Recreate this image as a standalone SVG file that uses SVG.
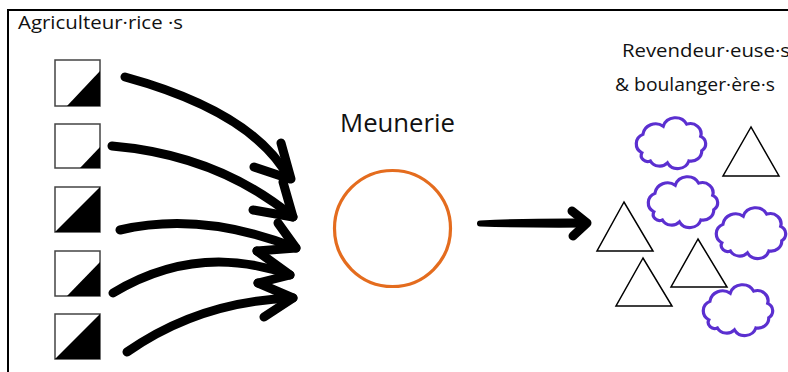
<svg xmlns="http://www.w3.org/2000/svg" width="788" height="372" viewBox="0 0 788 372">
  <style>
    .lbl { font-family: "Open Sans", "Liberation Sans", Arial, sans-serif; fill: #111; }
    .farm { fill: #fff; stroke: #444; stroke-width: 1.5; }
    .share { fill: #000; }
    .ink { fill: none; stroke: #000; stroke-width: 9; stroke-linecap: round; stroke-linejoin: round; }
    .tri { fill: #fff; stroke: #000; stroke-width: 1.5; stroke-linejoin: miter; }
    .cloud { fill: #fff; stroke: #5b2fd0; stroke-width: 3; }
  </style>
  <defs>
    <path id="cloudShape" d="M12,36 A10,10 0 0 1 13,18 A12,12 0 0 1 32,10 A12,12 0 0 1 54,8 A10,10 0 0 1 67,20 A8,8 0 0 1 68,34 A10,10 0 0 1 56,44 A11,11 0 0 1 36,46 A10,10 0 0 1 20,44 A6,6 0 0 1 12,36 Z"/>
  </defs>

  <rect width="788" height="372" fill="#fff"/>
  <!-- outer frame, open to the right and bottom -->
  <rect x="8" y="10" width="800" height="400" fill="none" stroke="#000" stroke-width="2"/>

  <!-- farmers -->
  <g id="farmers">
    <text class="lbl" x="18" y="29" font-size="19" textLength="165" lengthAdjust="spacingAndGlyphs">Agriculteur·rice ·s</text>
    <g id="farm1">
      <rect class="farm" x="55" y="60" width="45" height="46"/>
      <polygon class="share" points="67,106 100,106 100,71"/>
    </g>
    <g id="farm2">
      <rect class="farm" x="55" y="124" width="45" height="44"/>
      <polygon class="share" points="80,168 100,168 100,147"/>
    </g>
    <g id="farm3">
      <rect class="farm" x="55" y="187" width="45" height="45"/>
      <polygon class="share" points="55,232 100,232 100,187"/>
    </g>
    <g id="farm4">
      <rect class="farm" x="55" y="251" width="45" height="45"/>
      <polygon class="share" points="67,296 100,296 100,262"/>
    </g>
    <g id="farm5">
      <rect class="farm" x="55" y="314" width="45" height="45"/>
      <polygon class="share" points="55,359 100,359 100,314"/>
    </g>
  </g>

  <!-- mill -->
  <g id="mill">
    <text class="lbl" x="340" y="132" font-size="25" textLength="115" lengthAdjust="spacingAndGlyphs">Meunerie</text>
    <circle cx="392.5" cy="228.5" r="58" fill="#fff" stroke="#e46c1e" stroke-width="3.2"/>
  </g>

  <!-- resellers and bakers -->
  <g id="resellers">
    <text class="lbl" x="622" y="57" font-size="19" textLength="168" lengthAdjust="spacingAndGlyphs">Revendeur·euse·s</text>
    <text class="lbl" x="615" y="91" font-size="19" textLength="160" lengthAdjust="spacingAndGlyphs">&amp; boulanger·ère·s</text>
    <g id="baker1"><use href="#cloudShape" class="cloud" transform="translate(629,116) scale(1.07,1.02)"/></g>
    <g id="baker2"><use href="#cloudShape" class="cloud" transform="translate(641,175) scale(1.07,1.02)"/></g>
    <g id="baker3"><use href="#cloudShape" class="cloud" transform="translate(709,206) scale(1.07,1.02)"/></g>
    <g id="baker4"><use href="#cloudShape" class="cloud" transform="translate(696,283) scale(1.07,1.02)"/></g>
    <g id="reseller1"><polygon class="tri" points="751,127 723,176 779,176"/></g>
    <g id="reseller2"><polygon class="tri" points="624,202 597,251 653,251"/></g>
    <g id="reseller3"><polygon class="tri" points="698,239 671,287 727,287"/></g>
    <g id="reseller4"><polygon class="tri" points="643,258 616,306 672,306"/></g>
  </g>

  <!-- hand-drawn connectors -->
  <g id="connectors">
    <path class="ink" d="M125,77 Q253,112 289,178"/>
    <path class="ink" d="M281,143 L291,179 M254,167 L290,179"/>
    <path class="ink" d="M112,146 Q218,155 293,217"/>
    <path class="ink" d="M283,182 L293,217 L253,210"/>
    <path class="ink" d="M120,230 Q202,211 296,248"/>
    <path class="ink" d="M278,223 L296,248 L257,251"/>
    <path class="ink" d="M113,293 Q198,242 290,275"/>
    <path class="ink" d="M257,251 L290,275 L258,283"/>
    <path class="ink" d="M127,352 Q200,301 293,298"/>
    <path class="ink" d="M258,283 L293,298 L264,317"/>
    <path d="M480,220.5 Q530,218 587,218.5 L587,227.5 Q530,228 480,226.5 A3,3 0 0 1 480,220.5 Z" fill="#000"/>
    <path class="ink" d="M572,211 L587,223 L573,236" stroke-width="7"/>
  </g>
</svg>
